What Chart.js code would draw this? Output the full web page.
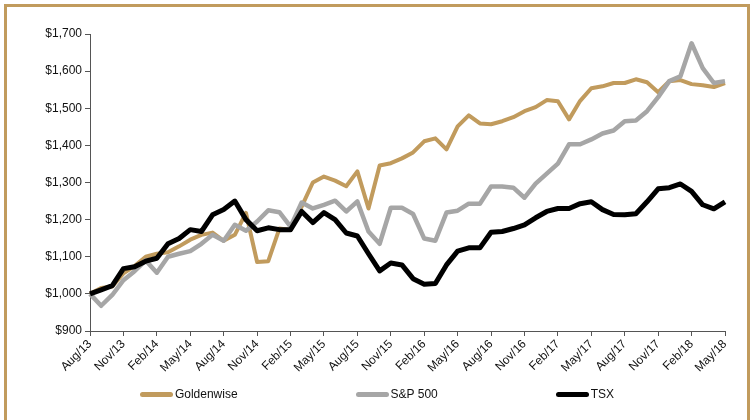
<!DOCTYPE html>
<html>
<head>
<meta charset="utf-8">
<script src="https://cdn.jsdelivr.net/npm/chart.js@4.4.1/dist/chart.umd.min.js"></script>
<style>
    html, body {
        margin: 0;
        padding: 0;
        background: #ffffff;
    }
    #wrap {
        position: relative;
        width: 754px;
        height: 420px;
        overflow: hidden;
    }
    #frame {
        position: absolute;
        left: 4px;
        top: 4px;
        width: 740px;
        height: 460px;
        border: 3px solid #c19b5d;
        pointer-events: none;
    }
    #legend {
        position: absolute;
        left: 0;
        width: 754px;
        top: 387px;
        display: flex;
        justify-content: center;
        gap: 118px;
        font-family: "Liberation Sans", Arial, sans-serif;
        font-size: 12px;
        color: #111;
    }
    .legend-item {
        display: flex;
        align-items: center;
    }
    .legend-swatch {
        width: 33px;
        height: 5px;
        border-radius: 3px;
        margin-right: 2px;
    }
</style>
</head>
<body>
<div id="wrap">
    <canvas id="myChart" width="754" height="420"></canvas>
    <div id="legend"></div>
    <div id="frame"></div>
</div>
<script>
const months = [
    'Aug/13', 'Sep/13', 'Oct/13', 'Nov/13', 'Dec/13', 'Jan/14', 'Feb/14', 'Mar/14', 'Apr/14', 'May/14',
    'Jun/14', 'Jul/14', 'Aug/14', 'Sep/14', 'Oct/14', 'Nov/14', 'Dec/14', 'Jan/15', 'Feb/15', 'Mar/15',
    'Apr/15', 'May/15', 'Jun/15', 'Jul/15', 'Aug/15', 'Sep/15', 'Oct/15', 'Nov/15', 'Dec/15', 'Jan/16',
    'Feb/16', 'Mar/16', 'Apr/16', 'May/16', 'Jun/16', 'Jul/16', 'Aug/16', 'Sep/16', 'Oct/16', 'Nov/16',
    'Dec/16', 'Jan/17', 'Feb/17', 'Mar/17', 'Apr/17', 'May/17', 'Jun/17', 'Jul/17', 'Aug/17', 'Sep/17',
    'Oct/17', 'Nov/17', 'Dec/17', 'Jan/18', 'Feb/18', 'Mar/18', 'Apr/18', 'May/18'
];

const goldenwise = [
    1000, 1016, 1020, 1055, 1075, 1100, 1108, 1112, 1128, 1146,
    1159, 1165, 1143, 1159, 1218, 1086, 1088, 1176, 1172, 1235,
    1300, 1316, 1305, 1290, 1330, 1230, 1346, 1352, 1365, 1381,
    1411, 1419, 1389, 1451, 1481, 1459, 1457, 1465, 1476, 1492,
    1503, 1522, 1519, 1470, 1520, 1554, 1559, 1568, 1568, 1578,
    1570, 1543, 1573, 1576, 1565, 1562, 1557, 1568
];

const sp500 = [
    1000, 968, 997, 1037, 1061, 1090, 1057, 1100, 1108, 1115,
    1135, 1159, 1143, 1186, 1170, 1195, 1225, 1220, 1181, 1246,
    1230, 1240, 1251, 1222, 1249, 1168, 1135, 1232, 1232, 1215,
    1149, 1143, 1219, 1224, 1243, 1243, 1289, 1289, 1286, 1259,
    1297, 1324, 1351, 1403, 1403, 1416, 1432, 1440, 1465, 1467,
    1492, 1530, 1573, 1586, 1675, 1608, 1568, 1573
];

const tsx = [
    1000, 1011, 1022, 1068, 1073, 1088, 1096, 1135, 1149, 1173,
    1168, 1213, 1227, 1250, 1200, 1170, 1178, 1173, 1173, 1222,
    1192, 1219, 1200, 1164, 1156, 1108, 1062, 1083, 1078, 1041,
    1026, 1028, 1078, 1115, 1124, 1124, 1166, 1168, 1176, 1186,
    1205, 1222, 1230, 1230, 1243, 1248, 1227, 1214, 1213, 1216,
    1248, 1283, 1286, 1296, 1276, 1240, 1229, 1248
];

const seriesNames = ['Goldenwise', 'S&P 500', 'TSX'];
const seriesColors = ['#c19b5d', '#a6a6a6', '#000000'];

const axisColor = '#555555';
const tickFont = { family: '"Liberation Sans", Arial, sans-serif', size: 12 };

function makeDataset(index, values, width, order) {
    return {
        label: seriesNames[index],
        data: values,
        borderColor: seriesColors[index],
        backgroundColor: seriesColors[index],
        borderWidth: width,
        borderJoinStyle: 'round',
        pointRadius: 0,
        tension: 0,
        fill: false,
        order: order
    };
}

function createChart() {
    const ctx = document.getElementById('myChart').getContext('2d');
    return new Chart(ctx, {
        type: 'line',
        data: {
            labels: months,
            datasets: [
                makeDataset(0, goldenwise, 4, 2),
                makeDataset(1, sp500, 4.5, 1),
                makeDataset(2, tsx, 5, 0)
            ]
        },
        options: {
            responsive: false,
            animation: false,
            devicePixelRatio: 1,
            layout: {
                padding: { left: 30, right: 29, top: 34, bottom: 44 }
            },
            plugins: {
                legend: { display: false },
                tooltip: { enabled: false }
            },
            scales: {
                x: {
                    type: 'category',
                    offset: false,
                    border: { display: true, color: axisColor, width: 1 },
                    grid: {
                        drawOnChartArea: false,
                        drawTicks: true,
                        tickLength: 5,
                        color: axisColor
                    },
                    ticks: {
                        autoSkip: false,
                        minRotation: 45,
                        maxRotation: 45,
                        padding: 1,
                        color: '#111',
                        font: tickFont,
                        callback: function(value, index) {
                            return index % 3 === 0 ? months[index] : null;
                        }
                    },
                    afterFit: function(scale) {
                        scale.height = 45;
                    }
                },
                y: {
                    min: 900,
                    max: 1700,
                    border: { display: true, color: axisColor, width: 1 },
                    grid: {
                        drawOnChartArea: false,
                        drawTicks: true,
                        tickLength: 5,
                        color: axisColor
                    },
                    ticks: {
                        stepSize: 100,
                        padding: 3,
                        color: '#111',
                        font: tickFont,
                        callback: function(value) {
                            return '$' + value.toLocaleString('en-US');
                        }
                    },
                    afterFit: function(scale) {
                        scale.width = 60;
                    }
                }
            }
        }
    });
}

function buildLegend() {
    const legend = document.getElementById('legend');
    seriesNames.forEach((name, i) => {
        const item = document.createElement('div');
        item.classList.add('legend-item');

        const swatch = document.createElement('span');
        swatch.classList.add('legend-swatch');
        swatch.style.background = seriesColors[i];
        item.appendChild(swatch);

        const text = document.createElement('span');
        text.textContent = name;
        item.appendChild(text);

        legend.appendChild(item);
    });
}

let chart = createChart();
buildLegend();
</script>
</body>
</html>
